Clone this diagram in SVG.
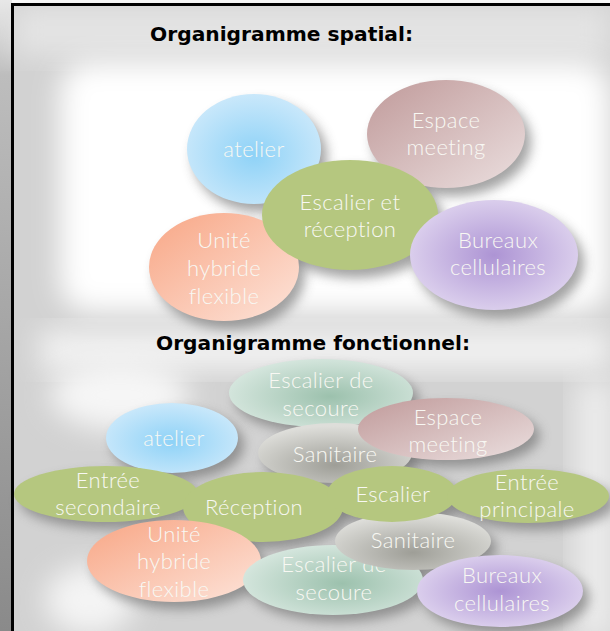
<svg xmlns="http://www.w3.org/2000/svg" width="610" height="631" viewBox="0 0 610 631">
<defs>
<style>
.t{font-family:Lato,"Open Sans",sans-serif;font-weight:300;font-size:22px;letter-spacing:.4px;fill:#f8f8f3;text-anchor:middle}
.h{font-family:"DejaVu Sans","Liberation Sans",sans-serif;font-weight:bold;font-size:20px;fill:#000}
.sh{fill:#666;opacity:.6;filter:url(#sblur)}
.green{fill:#b5c77f}
</style>
<filter id="bblur" x="-30%" y="-30%" width="160%" height="160%"><feGaussianBlur stdDeviation="14"/></filter>
<filter id="sblur" x="-30%" y="-30%" width="160%" height="160%"><feGaussianBlur stdDeviation="6"/></filter>
<linearGradient id="gLeft" x1="0" y1="0" x2="0" y2="1"><stop offset="0" stop-color="#e8e8e8"/><stop offset=".12" stop-color="#bdbdbd"/><stop offset="1" stop-color="#8a8a8a"/></linearGradient>
<radialGradient id="gBlue" cx=".5" cy=".55" r=".6"><stop offset="0" stop-color="#8ed2f7"/><stop offset="1" stop-color="#cfeafb"/></radialGradient>
<linearGradient id="gRose" x1="0" y1="0" x2="1" y2="1"><stop offset="0" stop-color="#c09a9a"/><stop offset="1" stop-color="#ebdfdf"/></linearGradient>
<linearGradient id="gPeach" x1="0" y1="0" x2="1" y2="1"><stop offset="0" stop-color="#f8a685"/><stop offset="1" stop-color="#fde4da"/></linearGradient>
<radialGradient id="gPurple" cx=".5" cy=".5" r=".6"><stop offset="0" stop-color="#ad94d4"/><stop offset="1" stop-color="#e3d9f1"/></radialGradient>
<radialGradient id="gTeal" cx=".55" cy=".55" r=".6"><stop offset="0" stop-color="#9cc1ad"/><stop offset="1" stop-color="#d8e8e0"/></radialGradient>
<radialGradient id="gGrey" cx=".5" cy=".7" r=".65"><stop offset="0" stop-color="#9e9e97"/><stop offset="1" stop-color="#dededa"/></radialGradient>
</defs>

<g id="background">
<rect x="0" y="0" width="610" height="631" fill="#ffffff"/>
<rect x="0" y="0" width="12" height="631" fill="url(#gLeft)"/>
<rect x="14" y="6" width="596" height="625" fill="#d2d2d2"/>
<rect x="14" y="6" width="596" height="50" fill="#e4e4e4" filter="url(#bblur)"/>
<rect x="60" y="62" width="550" height="250" rx="30" fill="#ffffff" filter="url(#bblur)"/>
<rect x="40" y="330" width="570" height="40" fill="#f2f2f2" filter="url(#bblur)"/>
<ellipse cx="90" cy="600" rx="45" ry="35" fill="#f4f4f4" filter="url(#bblur)"/>
<rect x="575" y="380" width="40" height="260" fill="#ececec" filter="url(#bblur)"/>
<ellipse cx="120" cy="395" rx="70" ry="35" fill="#f6f6f6" filter="url(#bblur)"/>
</g>

<g id="frame">
<path d="M610 4.5H12.5V631" fill="none" stroke="#000" stroke-width="3"/>
</g>

<g id="shadows">
<ellipse class="sh" cx="260" cy="157" rx="67" ry="55"/>
<ellipse class="sh" cx="452" cy="142" rx="79" ry="54"/>
<ellipse class="sh" cx="230" cy="275" rx="75" ry="54"/>
<ellipse class="sh" cx="356" cy="223" rx="88" ry="55"/>
<ellipse class="sh" cx="500" cy="263" rx="84" ry="55"/>
<ellipse class="sh" cx="327" cy="400" rx="92" ry="34"/>
<ellipse class="sh" cx="341" cy="460" rx="77" ry="30"/>
<ellipse class="sh" cx="452" cy="436" rx="88" ry="31"/>
<ellipse class="sh" cx="178" cy="445" rx="66" ry="35"/>
<ellipse class="sh" cx="112" cy="501" rx="92" ry="28"/>
<ellipse class="sh" cx="269" cy="514" rx="80" ry="35"/>
<ellipse class="sh" cx="398" cy="501" rx="65" ry="28"/>
<ellipse class="sh" cx="534" cy="503" rx="81" ry="27"/>
<ellipse class="sh" cx="180" cy="568" rx="87" ry="41"/>
<ellipse class="sh" cx="339" cy="587" rx="90" ry="35"/>
<ellipse class="sh" cx="419" cy="548" rx="78" ry="29"/>
<ellipse class="sh" cx="506" cy="598" rx="83" ry="36"/>
</g>

<text class="h" x="150" y="41" textLength="263" lengthAdjust="spacingAndGlyphs">Organigramme spatial:</text>
<text class="h" x="156" y="350" textLength="314" lengthAdjust="spacingAndGlyphs">Organigramme fonctionnel:</text>

<g id="spatial-atelier">
<ellipse cx="254" cy="149" rx="67" ry="55" fill="url(#gBlue)"/>
<text class="t" x="254" y="157">atelier</text>
</g>
<g id="spatial-espace-meeting">
<ellipse cx="446" cy="134" rx="79" ry="54" fill="url(#gRose)"/>
<text class="t" x="446" y="128">Espace</text>
<text class="t" x="446" y="155">meeting</text>
</g>
<g id="spatial-unite">
<ellipse cx="224" cy="267" rx="75" ry="54" fill="url(#gPeach)"/>
<text class="t" x="224" y="248">Unité</text>
<text class="t" x="224" y="276">hybride</text>
<text class="t" x="224" y="304">flexible</text>
</g>
<g id="spatial-escalier-reception">
<ellipse cx="350" cy="215" rx="88" ry="55" class="green"/>
<text class="t" x="350" y="210">Escalier et</text>
<text class="t" x="350" y="237">réception</text>
</g>
<g id="spatial-bureaux">
<ellipse cx="494" cy="255" rx="84" ry="55" fill="url(#gPurple)"/>
<text class="t" x="498" y="248">Bureaux</text>
<text class="t" x="498" y="275">cellulaires</text>
</g>

<g id="f-escalier-secoure-1">
<ellipse cx="321" cy="393" rx="92" ry="34" fill="url(#gTeal)"/>
<text class="t" x="321" y="388">Escalier de</text>
<text class="t" x="321" y="416">secoure</text>
</g>
<g id="f-sanitaire-1">
<ellipse cx="335" cy="453" rx="77" ry="30" fill="url(#gGrey)"/>
<text class="t" x="335" y="462">Sanitaire</text>
</g>
<g id="f-espace-meeting">
<ellipse cx="446" cy="429" rx="88" ry="31" fill="url(#gRose)"/>
<text class="t" x="448" y="425">Espace</text>
<text class="t" x="448" y="452">meeting</text>
</g>
<g id="f-atelier">
<ellipse cx="172" cy="438" rx="66" ry="35" fill="url(#gBlue)"/>
<text class="t" x="174" y="446">atelier</text>
</g>
<g id="f-entree-secondaire">
<ellipse cx="106" cy="494" rx="92" ry="28" class="green"/>
<text class="t" x="108" y="488">Entrée</text>
<text class="t" x="108" y="515">secondaire</text>
</g>
<g id="f-reception">
<ellipse cx="263" cy="507" rx="80" ry="35" class="green"/>
<text class="t" x="254" y="515">Réception</text>
</g>
<g id="f-unite">
<ellipse cx="174" cy="561" rx="87" ry="41" fill="url(#gPeach)"/>
<text class="t" x="174" y="542">Unité</text>
<text class="t" x="174" y="569">hybride</text>
<text class="t" x="174" y="597">flexible</text>
</g>
<g id="f-escalier-secoure-2">
<ellipse cx="333" cy="580" rx="90" ry="35" fill="url(#gTeal)"/>
<text class="t" x="334" y="572">Escalier de</text>
<text class="t" x="334" y="600">secoure</text>
</g>
<g id="f-sanitaire-2">
<ellipse cx="413" cy="541" rx="78" ry="29" fill="url(#gGrey)"/>
<text class="t" x="413" y="548">Sanitaire</text>
</g>
<g id="f-escalier">
<ellipse cx="392" cy="494" rx="65" ry="28" class="green"/>
<text class="t" x="393" y="502">Escalier</text>
</g>
<g id="f-entree-principale">
<ellipse cx="528" cy="496" rx="81" ry="27" class="green"/>
<text class="t" x="527" y="490">Entrée</text>
<text class="t" x="527" y="517">principale</text>
</g>
<g id="f-bureaux">
<ellipse cx="500" cy="591" rx="83" ry="36" fill="url(#gPurple)"/>
<text class="t" x="502" y="583">Bureaux</text>
<text class="t" x="502" y="611">cellulaires</text>
</g>
<g id="connectors"/>
</svg>
